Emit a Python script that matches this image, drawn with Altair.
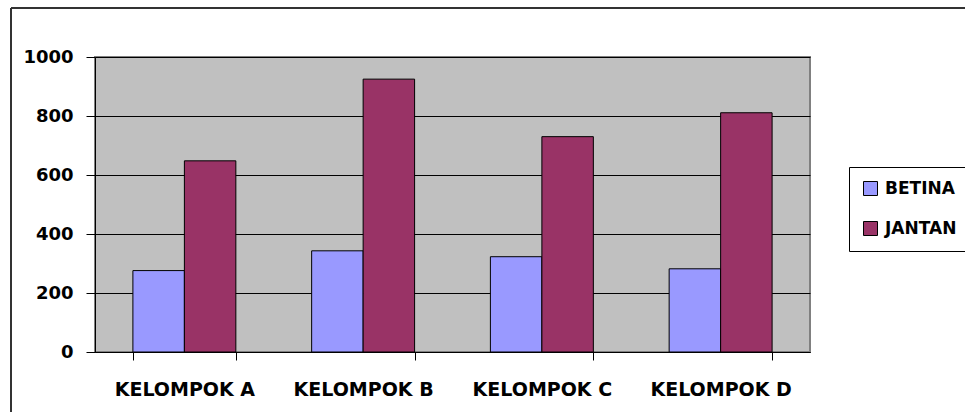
import altair as alt
import pandas as pd

categories = ["KELOMPOK A", "KELOMPOK B", "KELOMPOK C", "KELOMPOK D"]
series = ["BETINA", "JANTAN"]
betina = [276, 343, 323, 282]
jantan = [648, 925, 730, 811]
colors = ["#9999FF", "#993366"]
y_ticks = [0, 200, 400, 600, 800, 1000]

rows = []
for c, b, j in zip(categories, betina, jantan):
    rows.append({"kelompok": c, "jenis": "BETINA", "nilai": b})
    rows.append({"kelompok": c, "jenis": "JANTAN", "nilai": j})
df = pd.DataFrame(rows)

W, H = 715, 295
FONT = "DejaVu Sans"

bars = alt.Chart(df).mark_bar(stroke="black", strokeWidth=1).encode(
    x=alt.X(
        "kelompok:N", sort=categories,
        scale=alt.Scale(paddingInner=0.424, paddingOuter=0.212),
        axis=alt.Axis(title=None, labelAngle=0, tickBand="extent", tickSize=8,
                      tickColor="black", tickWidth=1, domainColor="black",
                      labelPadding=20, labelFont=FONT, labelFontWeight="bold",
                      labelFontSize=19, labelColor="black", grid=False),
    ),
    xOffset=alt.XOffset("jenis:N", sort=series,
                        scale=alt.Scale(paddingInner=0, paddingOuter=0)),
    y=alt.Y(
        "nilai:Q", scale=alt.Scale(domain=[0, 1000], nice=False),
        axis=alt.Axis(title=None, values=y_ticks, format="d", tickSize=9,
                      tickColor="black", domainColor="black", labelPadding=13,
                      gridColor="black", gridWidth=1, labelFont=FONT,
                      labelFontWeight="bold", labelFontSize=18, labelColor="black"),
    ),
    color=alt.Color(
        "jenis:N", scale=alt.Scale(domain=series, range=colors),
        legend=alt.Legend(title=None, orient="none", legendX=754, legendY=110,
                          strokeColor="black", fillColor="white", padding=13,
                          symbolType="square", symbolSize=196,
                          symbolStrokeColor="black", symbolStrokeWidth=1,
                          labelFont=FONT, labelFontWeight="bold", labelFontSize=17,
                          labelColor="black", rowPadding=21, labelOffset=6),
    ),
)

one = alt.Data(values=[{}])
frame_top = alt.Chart(one).mark_rule(color="#333333", strokeWidth=2).encode(
    x=alt.value(-84), x2=alt.value(900), y=alt.value(-49))
frame_left = alt.Chart(one).mark_rule(color="#333333", strokeWidth=2).encode(
    x=alt.value(-84), y=alt.value(-49), y2=alt.value(400))

chart = alt.layer(frame_top, frame_left, bars).properties(
    width=W, height=H,
    autosize=alt.AutoSizeParams(type="none"),
    padding={"left": 95, "top": 57, "right": 155, "bottom": 60},
    background="white",
).configure_view(fill="#C0C0C0", stroke="#808080", strokeWidth=2)

chart.save("out.html", embed_options={"renderer": "svg", "actions": False})
